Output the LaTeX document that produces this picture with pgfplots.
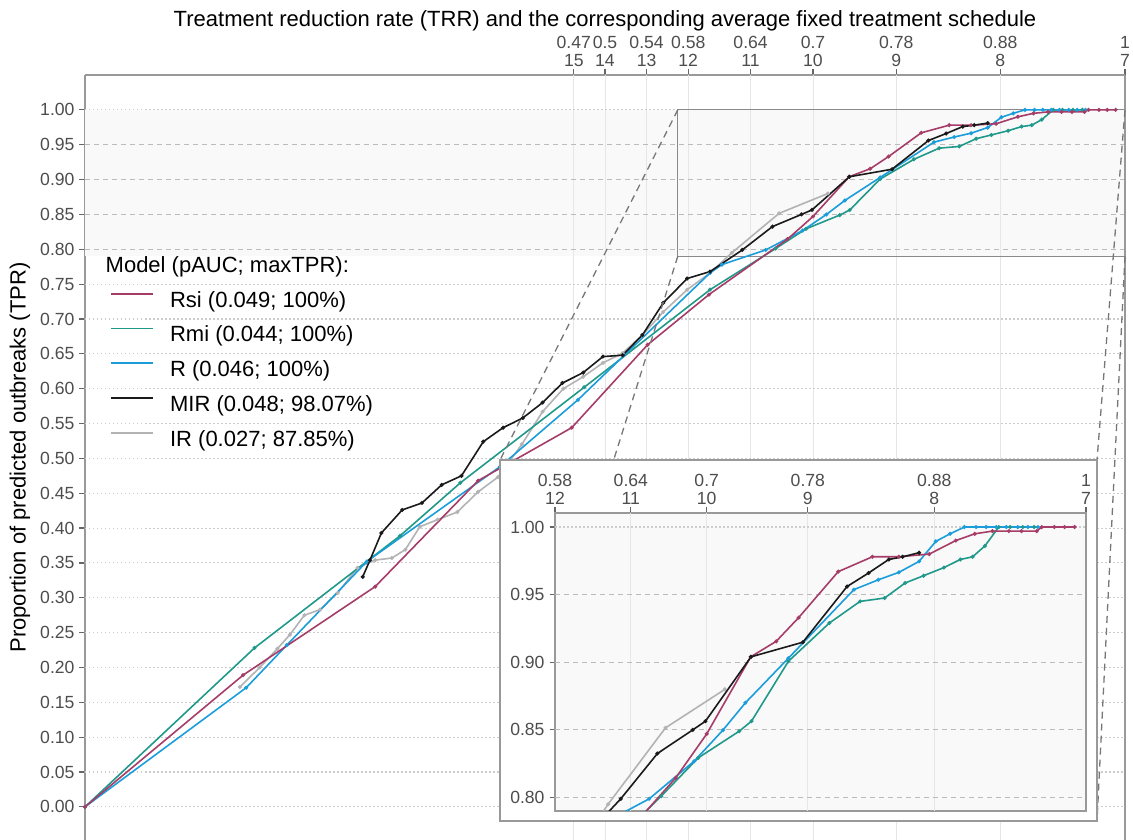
\documentclass[border=0pt]{standalone}
\usepackage{fontspec}
\setmainfont{Liberation Sans}
\usepackage{pgfplots}
\usepackage{pgfplotstable}
\pgfplotsset{compat=1.18}

\definecolor{cRsi}{HTML}{A63D68}
\definecolor{cRmi}{HTML}{21998A}
\definecolor{cR}{HTML}{1B9DDB}
\definecolor{cMIR}{HTML}{1A1A1A}
\definecolor{cIR}{HTML}{B3B3B3}
\definecolor{axgray}{HTML}{999999}
\definecolor{tickgray}{HTML}{4D4D4D}
\definecolor{tickmark}{HTML}{666666}
\definecolor{dotgray}{HTML}{CCCCCC}
\definecolor{dashgray}{HTML}{BBBBBB}
\definecolor{vgrid}{HTML}{E6E6E6}
\definecolor{boxgray}{HTML}{8A8A8A}
\definecolor{conn}{HTML}{777777}
\definecolor{bandfill}{HTML}{F9F9F9}

\pgfplotstableread{
x y
0 0
0.152 0.189
0.279 0.316
0.378 0.468
0.468 0.544
0.541 0.663
0.600 0.735
0.6755 0.8145
0.700 0.847
0.7348 0.904
0.755 0.9155
0.7727 0.933
0.804 0.967
0.831 0.978
0.852 0.978
0.876 0.980
0.897 0.990
0.912 0.995
0.926 0.997
0.939 0.997
0.949 0.997
0.961 0.997
0.965 1.0
0.975 1.0
0.983 1.0
0.991 1.0
}\tRsi

\pgfplotstableread{
x y
0 0
0.163 0.228
0.303 0.389
0.361 0.465
0.480 0.602
0.601 0.742
0.664 0.801
0.6933 0.8293
0.7257 0.849
0.7354 0.8564
0.7646 0.9007
0.797 0.929
0.8213 0.945
0.8407 0.9475
0.8569 0.9586
0.8715 0.964
0.8876 0.970
0.9006 0.976
0.9103 0.978
0.920 0.986
0.931 1.0
0.940 1.0
0.950 1.0
0.959 1.0
}\tRmi

\pgfplotstableread{
x y
0 0
0.155 0.171
0.194 0.232
0.271 0.352
0.399 0.488
0.474 0.584
0.601 0.766
0.6125 0.778
0.6545 0.799
0.690 0.8268
0.7128 0.8498
0.7306 0.870
0.7646 0.903
0.8164 0.9537
0.8358 0.961
0.852 0.9665
0.868 0.9746
0.8812 0.9894
0.8925 0.995
0.9038 1.0
0.913 1.0
0.921 1.0
0.929 1.0
0.937 1.0
0.946 1.0
0.954 1.0
0.962 1.0
}\tR

\pgfplotstableread{
x y
0.267 0.330
0.274 0.354
0.285 0.393
0.305 0.426
0.324 0.436
0.343 0.462
0.362 0.475
0.383 0.524
0.402 0.544
0.421 0.558
0.440 0.580
0.459 0.608
0.479 0.623
0.498 0.646
0.517 0.648
0.536 0.677
0.556 0.723
0.579 0.758
0.601 0.768
0.632 0.799
0.661 0.8325
0.689 0.850
0.699 0.8564
0.735 0.904
0.776 0.9148
0.811 0.956
0.828 0.966
0.844 0.976
0.855 0.978
0.868 0.981
}\tMIR

\pgfplotstableread{
x y
0.149 0.172
0.168 0.200
0.185 0.227
0.197 0.247
0.211 0.275
0.226 0.283
0.243 0.307
0.262 0.343
0.279 0.354
0.295 0.357
0.308 0.369
0.322 0.402
0.339 0.412
0.358 0.423
0.378 0.452
0.397 0.473
0.420 0.520
0.440 0.567
0.460 0.600
0.479 0.617
0.498 0.637
0.517 0.651
0.536 0.677
0.556 0.710
0.579 0.742
0.601 0.766
0.622 0.795
0.6674 0.8515
0.7144 0.880
}\tIR

\tikzset{
  dotgrid/.style={dotgray, line width=1.1pt, dash pattern=on 1.5pt off 2.5pt},
  dashgrid/.style={dashgray, line width=1.1pt, dash pattern=on 5pt off 4pt},
  vgridline/.style={vgrid, line width=1pt},
}
\pgfplotsset{
  serRsi/.style={cRsi, line width=1.6pt, mark=*, mark size=1.1pt},
  serRmi/.style={cRmi, line width=1.6pt, mark=*, mark size=1.1pt},
  serR/.style={cR, line width=1.6pt, mark=*, mark size=1.1pt},
  serMIR/.style={cMIR, line width=1.6pt, mark=*, mark size=1.1pt},
  serIR/.style={cIR, line width=1.6pt, mark=*, mark size=1.1pt},
}

\begin{document}
\begin{tikzpicture}
\path[use as bounding box] (0pt,0pt) rectangle (1133pt,840pt);
\clip (0pt,0pt) rectangle (1133pt,840pt);

\begin{axis}[
  at={(85pt,0pt)}, anchor=south west,
  scale only axis, width=1040pt, height=765pt,
  xmin=0, xmax=1, ymin=-0.0475, ymax=1.05,
  axis x line*=top, axis y line*=left,
  axis line style={axgray, line width=1.3pt},
  tick style={tickmark, line width=1.2pt},
  major tick length=5.5pt, tick align=outside,
  xtick={0.47,0.5,0.54,0.58,0.64,0.7,0.78,0.88,1},
  xticklabels={{0.47\\15},{0.5\\14},{0.54\\13},{0.58\\12},{0.64\\11},{0.7\\10},{0.78\\9},{0.88\\8},{1\\7}},
  xticklabel style={align=center, font=\fontsize{17.6}{18}\selectfont, text=tickgray, inner sep=2.5pt},
  ytick={0,0.05,0.1,0.15,0.2,0.25,0.3,0.35,0.4,0.45,0.5,0.55,0.6,0.65,0.7,0.75,0.8,0.85,0.9,0.95,1},
  yticklabels={0.00,0.05,0.10,0.15,0.20,0.25,0.30,0.35,0.40,0.45,0.50,0.55,0.60,0.65,0.70,0.75,0.80,0.85,0.90,0.95,1.00},
  yticklabel style={font=\fontsize{17.6}{20}\selectfont, text=tickgray, inner sep=4.8pt},
  title={Treatment reduction rate (TRR) and the corresponding average fixed treatment schedule},
  every axis title/.style={at={(axis description cs:0.5,1)}, anchor=base, yshift=48pt, font=\fontsize{22}{26}\selectfont},
  ylabel={Proportion of predicted outbreaks (TPR)},
  every axis y label/.style={at={(axis description cs:-0.0625,0.5)}, rotate=90, anchor=center, font=\fontsize{22}{26}\selectfont},
  legend style={at={(axis description cs:0.02404,0.7176)}, anchor=north west, draw=none, fill=none,
    inner sep=0pt, outer sep=0pt, font=\fontsize{22}{26}\selectfont,
    row sep=13.75pt, column sep=16.3pt,
    nodes={inner sep=0pt, text height=16pt, text depth=5pt}},
  legend cell align=left,
  legend image code/.code={\draw[#1] (0pt,7.8pt) -- (42pt,7.8pt);},
]
% band and grid
\fill[bandfill] (axis cs:0,0.79) rectangle (axis cs:1,1);
\pgfplotsinvokeforeach{0.47,0.5,0.54,0.58,0.64,0.7,0.78,0.88}{
  \draw[vgridline] (axis cs:#1,-0.0475) -- (axis cs:#1,1.05);
}
\pgfplotsinvokeforeach{0,0.05,0.1,0.15,0.2,0.25,0.3,0.35,0.4,0.45,0.5,0.55,0.6,0.65,0.7,0.75,1}{
  \draw[dotgrid] (axis cs:0,#1) -- (axis cs:1,#1);
}
\pgfplotsinvokeforeach{0.8,0.85,0.9,0.95}{
  \draw[dashgrid] (axis cs:0,#1) -- (axis cs:1,#1);
}
\draw[boxgray, line width=1.3pt] (axis cs:0.57,0.79) rectangle (axis cs:1,1);

\addplot[serIR, forget plot] table {\tIR};
\addplot[serRmi, forget plot] table {\tRmi};
\addplot[serR, forget plot] table {\tR};
\addplot[serRsi, forget plot] table {\tRsi};
\addplot[serMIR, forget plot] table {\tMIR};

\addlegendimage{cRsi, line width=1.8pt}
\addlegendentry{Rsi (0.049; 100\%)}
\addlegendimage{cRmi, line width=1.8pt}
\addlegendentry{Rmi (0.044; 100\%)}
\addlegendimage{cR, line width=1.8pt}
\addlegendentry{R (0.046; 100\%)}
\addlegendimage{cMIR, line width=1.8pt}
\addlegendentry{MIR (0.048; 98.07\%)}
\addlegendimage{cIR, line width=1.8pt}
\addlegendentry{IR (0.027; 87.85\%)}

\coordinate (btl) at (axis cs:0.57,1);
\coordinate (bbl) at (axis cs:0.57,0.79);
\coordinate (btr) at (axis cs:1,1);
\coordinate (bbr) at (axis cs:1,0.79);
\end{axis}

% right frame of main panel
\draw[axgray, line width=1.3pt] (1125pt,0pt) -- (1125pt,765pt);

% legend title
\node[anchor=base west, inner sep=0pt, font=\fontsize{22}{26}\selectfont] at (105.5pt,567pt) {Model (pAUC; maxTPR):};

% connectors
\draw[conn, line width=1.3pt, dash pattern=on 7pt off 5pt] (btl) -- (500pt,380pt);
\draw[conn, line width=1.3pt, dash pattern=on 7pt off 5pt] (bbl) -- (500pt,19pt);
\draw[conn, line width=1.3pt, dash pattern=on 7pt off 5pt] (btr) -- (1097pt,380pt);
\draw[conn, line width=1.3pt, dash pattern=on 7pt off 5pt] (bbr) -- (1097pt,19pt);

% inset outer box
\draw[fill=white, draw=axgray, line width=1.3pt] (500pt,19pt) rectangle (1097pt,380pt);

\begin{axis}[
  at={(555pt,29pt)}, anchor=south west,
  scale only axis, width=531pt, height=298pt,
  xmin=0.58, xmax=1, ymin=0.79, ymax=1.0104,
  axis background/.style={fill=bandfill},
  axis line style={axgray, line width=1.3pt},
  tick style={tickmark, line width=1.2pt},
  major tick length=5.5pt, tick align=outside,
  xtick pos=right, xticklabel pos=right, ytick pos=left,
  xtick={0.58,0.64,0.7,0.78,0.88,1},
  xticklabels={{0.58\\12},{0.64\\11},{0.7\\10},{0.78\\9},{0.88\\8},{1\\7}},
  xticklabel style={align=center, font=\fontsize{17.6}{18}\selectfont, text=tickgray, inner sep=2.5pt},
  ytick={0.8,0.85,0.9,0.95,1},
  yticklabels={0.80,0.85,0.90,0.95,1.00},
  yticklabel style={font=\fontsize{17.6}{20}\selectfont, text=tickgray, inner sep=4.8pt},
]
\pgfplotsinvokeforeach{0.64,0.7,0.78,0.88}{
  \draw[vgridline] (axis cs:#1,0.79) -- (axis cs:#1,1.0104);
}
\draw[dotgrid] (axis cs:0.58,1) -- (axis cs:1,1);
\pgfplotsinvokeforeach{0.8,0.85,0.9,0.95}{
  \draw[dashgrid] (axis cs:0.58,#1) -- (axis cs:1,#1);
}
\addplot[serIR] table {\tIR};
\addplot[serRmi] table {\tRmi};
\addplot[serR] table {\tR};
\addplot[serRsi] table {\tRsi};
\addplot[serMIR] table {\tMIR};
\end{axis}
\end{tikzpicture}
\end{document}
